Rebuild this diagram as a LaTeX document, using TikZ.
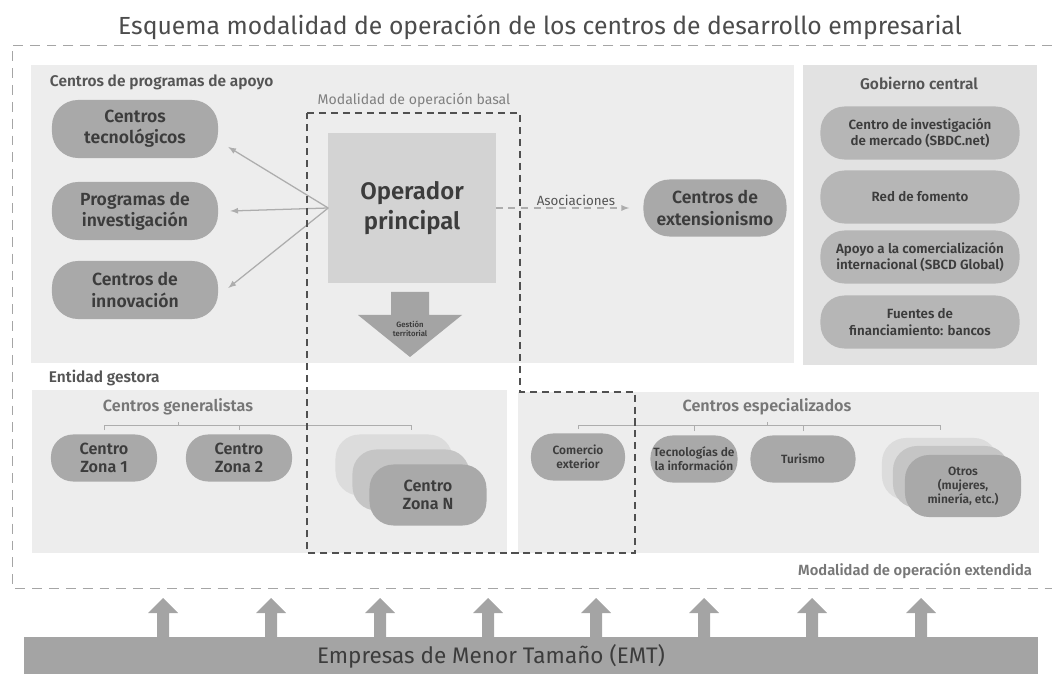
\documentclass[tikz,border=0pt]{standalone}
\usepackage{fontspec}
\setmainfont{Fira Sans}[BoldFont={Fira Sans SemiBold}]
\usepackage{xcolor}
\usepackage{tikz}
\usetikzlibrary{arrows}
\usetikzlibrary{calc}

\definecolor{panelgray}{HTML}{EDEDED}
\definecolor{govgray}{HTML}{E2E2E2}
\definecolor{pillgray}{HTML}{A9A9A9}
\definecolor{govpill}{HTML}{B6B6B6}
\definecolor{opgray}{HTML}{D3D3D3}
\definecolor{textdark}{HTML}{3C3C3C}
\definecolor{labelgray}{HTML}{555555}
\definecolor{lightline}{HTML}{ADADAD}
\definecolor{framegray}{HTML}{A5A5A5}
\definecolor{basalgray}{HTML}{505050}
\definecolor{arrowgray}{HTML}{A4A4A4}
\definecolor{backpill}{HTML}{DCDCDC}
\definecolor{midpill}{HTML}{C5C5C5}

\begin{document}
\begin{tikzpicture}[x=0.025cm,y=-0.025cm,
  pill/.style={fill=pillgray,align=center,inner sep=0pt,text=textdark},
  bigpill/.style={pill,rounded corners=0.65cm,minimum width=4.15cm,minimum height=1.45cm,font=\bfseries\fontsize{12.5}{15}\selectfont},
  govbox/.style={pill,fill=govpill,rounded corners=0.6cm,minimum width=4.975cm,minimum height=1.325cm,font=\bfseries\fontsize{9.5}{12}\selectfont},
  zonepill/.style={pill,rounded corners=0.55cm,minimum width=2.65cm,minimum height=1.175cm,font=\bfseries\fontsize{11.5}{12.5}\selectfont},
  smallpill/.style={pill,rounded corners=0.55cm,minimum height=1.175cm,font=\bfseries\fontsize{8.5}{10}\selectfont},
  seclabel/.style={text=labelgray,font=\bfseries\fontsize{11}{13}\selectfont},
  sublabel/.style={text=labelgray!80,font=\bfseries\fontsize{11.5}{13}\selectfont},
  fan/.style={draw=lightline,line width=0.9pt,-latex},
  tree/.style={draw=lightline,line width=0.6pt},
  basal/.style={draw=basalgray,line width=1.4pt,dash pattern=on 5pt off 3.5pt},
  frame/.style={draw=framegray,line width=0.6pt,dash pattern=on 7pt off 5pt}]
\useasboundingbox (0,0) rectangle (1052,674);

% title
\node[text=labelgray!90!black,font=\fontsize{17.6}{20}\selectfont] (title) at (540,27) {Esquema modalidad de operación de los centros de desarrollo empresarial};
\draw[frame] (1052,45) -- (12,45) -- (12,588) -- (1052,588);

% panels
\fill[panelgray] (31,65) rectangle (794,363);
\fill[govgray] (803,65) rectangle (1037,365);
\fill[panelgray] (32,390) rectangle (507,553);
\fill[panelgray] (518,392) rectangle (1039,553);

\node[seclabel,anchor=west] (apoyo) at (45,82) {Centros de programas de apoyo};
\node[text=labelgray!75,font=\fontsize{10}{12}\selectfont] (basallbl) at (414,100) {Modalidad de operación basal};
\node[seclabel] (gob) at (919,83) {Gobierno central};
\node[seclabel,anchor=west] (entidad) at (44,378) {Entidad gestora};
\node[sublabel] (gen) at (178,407) {Centros generalistas};
\node[sublabel] (esp) at (767,407) {Centros especializados};
\node[text=labelgray!80,font=\bfseries\fontsize{10.5}{12}\selectfont,anchor=east] (extlbl) at (1037,571) {Modalidad de operación extendida};

% centros de apoyo
\node[bigpill] (tec) at (135,129) {Centros\\tecnológicos};
\node[bigpill] (prog) at (135,211) {Programas de\\investigación};
\node[bigpill] (inv) at (135,290) {Centros de\\innovación};

% operador
\node[fill=opgray,minimum width=4.175cm,minimum height=3.75cm,align=center,text=textdark,font=\bfseries\fontsize{17}{21}\selectfont] (op) at (412,208) {Operador\\principal};
\draw[fan] (op.west) -- ([xshift=0.25cm,yshift=-0.45cm]tec.east);
\draw[fan] (op.west) -- ([xshift=0.3cm]prog.east);
\draw[fan] (op.west) -- ([xshift=0.25cm,yshift=0.05cm]inv.east);

\fill[arrowgray] (391,292) -- (429,292) -- (429,315) -- (462,315) -- (410,357) -- (358,315) -- (391,315) -- cycle;
\node[align=center,text=textdark,font=\bfseries\fontsize{5.5}{6}\selectfont] (gestion) at (410,329) {Gestión\\territorial};

% extensionismo
\node[pill,rounded corners=0.65cm,minimum width=3.575cm,minimum height=1.425cm,font=\bfseries\fontsize{12.5}{15}\selectfont] (ext) at (715,208) {Centros de\\extensionismo};
\draw[draw=lightline,line width=0.9pt,dash pattern=on 5pt off 4pt,-latex,shorten >=0.35cm] (op.east) -- (ext.west);
\node[text=labelgray,font=\fontsize{9.5}{11}\selectfont] (asoc) at (576,200) {Asociaciones};

% gobierno central
\node[govbox] (sbdc) at (920,133) {Centro de investigación\\de mercado (SBDC.net)};
\node[govbox] (red) at (920,197) {Red de fomento};
\node[govbox] (global) at (920,257) {Apoyo a la comercialización\\internacional (SBCD Global)};
\node[govbox] (bancos) at (920,322) {Fuentes de\\financiamiento: bancos};

% centros generalistas
\node[zonepill] (z1) at (104,458) {Centro\\Zona 1};
\node[zonepill] (z2) at (239,458) {Centro\\Zona 2};
\node[zonepill,fill=backpill,minimum width=2.925cm,minimum height=1.525cm,rounded corners=0.6cm] (zn1) at (394,465) {};
\node[zonepill,fill=midpill,minimum width=2.925cm,minimum height=1.525cm,rounded corners=0.6cm] (zn2) at (411,480) {};
\node[zonepill,minimum width=2.925cm,minimum height=1.525cm,rounded corners=0.6cm] (zn3) at (428,495) {Centro\\Zona N};

\coordinate (gbar) at (0,425);
\draw[tree] (z1.north) ++(0,-4) |- (gbar -| zn2.north) -- ++(0,5);
\draw[tree] (z2.north) ++(0,-4) -- (gbar -| z2.north);
\draw[tree] (gbar -| gen.south) -- ++(0,-3);

% centros especializados
\node[smallpill,minimum width=2.35cm] (com) at (578,457) {Comercio\\exterior};
\node[smallpill,minimum width=2.175cm] (tecinfo) at (694,459) {Tecnologías de\\la información};
\node[smallpill,minimum width=2.625cm] (tur) at (803,459) {Turismo};
\node[smallpill,fill=backpill,minimum width=2.9cm,minimum height=1.55cm,rounded corners=0.6cm] (ot1) at (940,469) {};
\node[smallpill,fill=midpill,minimum width=2.9cm,minimum height=1.55cm,rounded corners=0.6cm] (ot2) at (951,477) {};
\node[smallpill,minimum width=2.9cm,minimum height=1.55cm,rounded corners=0.6cm] (ot3) at (963,486) {Otros\\(mujeres,\\minería, etc.)};

\draw[tree] (com.north) ++(0,-4) |- (gbar -| ot1.north) -- ++(0,5);
\draw[tree] (tecinfo.north) ++(0,-4) -- (gbar -| tecinfo.north);
\draw[tree] (tur.north) ++(0,-4) -- (gbar -| tur.north);
\draw[tree] (gbar -| esp.south) -- ++(0,-3);

% modalidad basal
\draw[basal] (307,113) -- (520,113) -- (520,392) -- (635,392) -- (635,553) -- (307,553) -- cycle;

% empresas
\node[fill=arrowgray,minimum width=25.35cm,minimum height=0.925cm,inner sep=0pt] (emtbar) at (531,655.5) {};
\node[text=textdark,font=\fontsize{16}{18}\selectfont] (emt) at (491,656) {Empresas de Menor Tamaño (EMT)};
\foreach \x in {163,271,380,488,596,704,812,921}
    \fill[arrowgray,shift={(\x,0)}] (-6,637) -- (-6,613) -- (-15,613) -- (0,598) -- (15,613) -- (6,613) -- (6,637) -- cycle;
\end{tikzpicture}
\end{document}
